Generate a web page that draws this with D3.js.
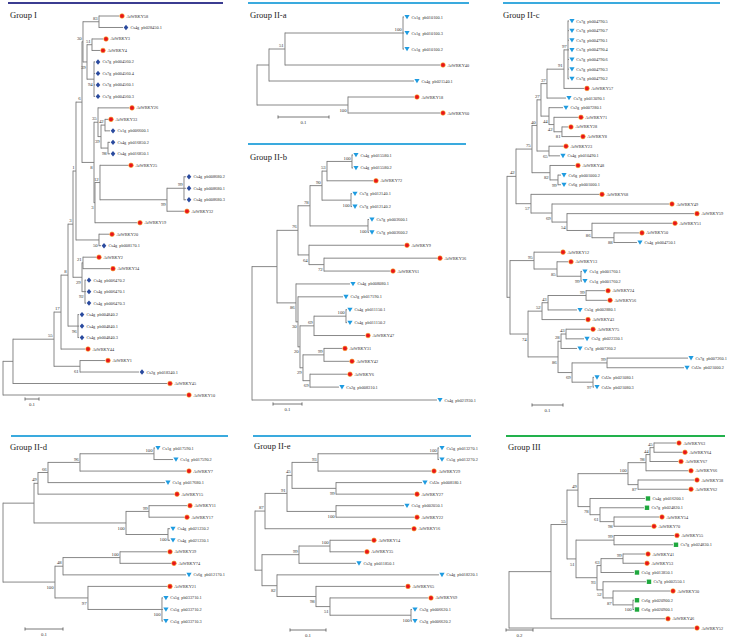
<!DOCTYPE html>
<html><head><meta charset="utf-8">
<script src="https://cdn.jsdelivr.net/npm/d3@7"></script>
<style>body{margin:0;background:#fff} svg{display:block} text{font-family:"Liberation Serif","Times New Roman",serif;white-space:pre}</style>
</head><body><svg id="c" width="740" height="642"></svg>
<script>
// ---------- DATA ----------
const panelTitles = ["Group I","Group II-a","Group II-b","Group II-c","Group II-d","Group II-e","Group III"];
const scaleBarValues = [0.1,0.1,0.1,0.1,0.1,0.1,0.2];
// Newick trees: leaf names, bootstrap values, branch lengths
const treeI = "((((((((((AtWRKY58:0.1429,Cs4g_pb028450.1:0.1714)83:0.1143,((AtWRKY3:0.0786,AtWRKY4:0.0571)51:0.0357,(Cs7g_pb004560.2:0.0071,Cs7g_pb004560.4:0.0071,Cs7g_pb004560.1:0.0071,Cs7g_pb004560.3:0.0071)94:0.05)39:0.0286)30:0.0071,((AtWRKY26:0.2214,((AtWRKY33:0.0214,Cs1g_pb006600.1:0.0357)42:0.0286,(Cs4g_pb016850.2:0.0143,Cs4g_pb016850.1:0.0143)98:0.05)39:0.0214)35:0.0286,((AtWRKY25:0.2,((Cs4g_pb008680.2:0.0143,Cs4g_pb008680.1:0.0143,Cs4g_pb008680.3:0.0143)99:0.1214,AtWRKY32:0.1214)99:0.4786)12:0.0357,AtWRKY19:0.3)3:0.0071)8:0.0857)6:0.0429,(AtWRKY20:0.0714,Cs4g_pb008170.1:0.0143)50:0.1643)1:0.0214,((AtWRKY2:0.0929,AtWRKY34:0.1929)21:0.0071,(Cs4g_pb006470.2:0.0071,Cs4g_pb006470.1:0.0071,Cs4g_pb006470.3:0.0071)92:0.0214)29:0.0643)3:0.0357,(Cs4g_pb004840.2:0.0071,Cs4g_pb004840.1:0.0071,Cs4g_pb004840.3:0.0071)96:0.0714)8:0.05,AtWRKY44:0.1714)17:0.05,(AtWRKY1:0.1786,Cs2g_pb018340.1:0.4214)61:0.1857)55:0.2929,AtWRKY45:1.1):0.0714,AtWRKY10:1.3071);";
const treeIIa = "((((Cs1g_pb010100.1:0.002,Cs1g_pb010100.3:0.002,Cs1g_pb010100.2:0.002)100:0.2314,AtWRKY40:0.3039)51:0.0314,Cs4g_pb021540.1:0.2843):0.0235,(AtWRKY18:0.1294,AtWRKY60:0.1804)100:0.1784);";
const treeIIb = "(((((((Cs4g_pb015580.1:0.0034,Cs4g_pb015580.2:0.0034)100:0.0862,AtWRKY72:0.1586)53:0.0172,(Cs7g_pb012140.1:0.0034,Cs7g_pb012140.2:0.0034)100:0.1)90:0.0414,(Cs7g_pb003600.1:0.0034,Cs7g_pb003600.2:0.0034)100:0.2)78:0.0414,(AtWRKY9:0.3276,(AtWRKY36:0.3897,AtWRKY61:0.2276)72:0.0517)64:0.0379)76:0.0724,(Cs4g_pb008080.1:0.1862,(Cs2g_pb017190.1:0.1552,(((Cs4g_pb011150.1:0.0034,Cs4g_pb011150.2:0.0034)100:0.1103,AtWRKY47:0.1759)69:0.0483,((AtWRKY31:0.0621,AtWRKY42:0.0862)99:0.0724,(AtWRKY6:0.1276,Cs2g_pb008310.1:0.1)69:0.0241)29:0.0103)20:0.0069)30:0.0069)86:0.0655):0.0862,Cs4g_pb021930.1:0.6379);";
const treeIIc = "((((((((Cs7g_pb004790.5:0.0032,Cs7g_pb004790.7:0.0032,Cs7g_pb004790.1:0.0032,Cs7g_pb004790.4:0.0032,Cs7g_pb004790.6:0.0032,Cs7g_pb004790.3:0.0032,Cs7g_pb004790.2:0.0032)97:0.0129,AtWRKY57:0.0645)91:0.0548,Cs7g_pb013090.1:0.0613)37:0.0194,(Cs2g_pb007280.1:0.0452,(AtWRKY71:0.0774,(AtWRKY28:0.0194,AtWRKY8:0.0581)81:0.0258)42:0.0161)44:0.0258)27:0.0129,(AtWRKY23:0.0452,Cs4g_pb010490.1:0.0355)65:0.0387)40:0.0161,(AtWRKY48:0.0806,(Cs6g_pb001000.2:0.0097,Cs6g_pb001000.1:0.0097)99:0.0258)82:0.0581)75:0.0516,(AtWRKY68:0.2194,(AtWRKY49:0.3774,(AtWRKY59:0.4097,(AtWRKY51:0.2581,(AtWRKY50:0.0806,Cs4g_pb004750.1:0.0742)88:0.071)86:0.0806)54:0.0484)69:0.0677)57:0.0484)42:0.029,((AtWRKY12:0.0839,(AtWRKY13:0.0355,(Cs1g_pb001760.1:0.0032,Cs1g_pb001760.2:0.0032)99:0.0774)85:0.0742)95:0.0774,((((AtWRKY24:0.0613,AtWRKY56:0.0677)99:0.1226,Cs5g_pb002880.1:0.0935)43:0.0194,AtWRKY43:0.1387)52:0.0452,(((AtWRKY75:0.0774,Cs2g_pb022330.1:0.0581)43:0.0161,Cs7g_pb007260.2:0.0516)28:0.0097,((Cs7g_pb007260.1:0.2613,CsUn_pb021000.2:0.2484)99:0.1129,(CsUn_pb021080.1:0.0032,CsUn_pb021080.3:0.0032)97:0.0677)69:0.0452)86:0.0968)74:0.0581):0.0097);";
const treeIId = "((((((Cs1g_pb017590.1:0.0026,Cs1g_pb017590.2:0.05)100:0.1947,AtWRKY7:0.2789)96:0.0842,Cs1g_pb017680.1:0.3079)66:0.0263,AtWRKY15:0.3579)49:0.0105,((AtWRKY11:0.1,AtWRKY17:0.0921)99:0.0605,(Cs4g_pb021230.2:0.0053,Cs4g_pb021230.1:0.0053)100:0.1105)100:0.2421):0.0816,(((AtWRKY39:0.1237,AtWRKY74:0.1342)100:0.15,Cs6g_pb012170.1:0.3237)48:0.0211,(AtWRKY21:0.2079,(Cs5g_pb033710.1:0.0026,Cs5g_pb033710.2:0.0026,Cs5g_pb033710.3:0.0026)100:0.1947)97:0.0868)100:0.1368);";
const treeIIe = "((((((Cs5g_pb013270.1:0.0028,Cs5g_pb013270.2:0.0028)100:0.3333,AtWRKY29:0.3139)93:0.0722,(CsUn_pb008180.1:0.2389,AtWRKY27:0.2167)99:0.1222)45:0.0139,(Cs5g_pb002050.1:0.1889,AtWRKY22:0.2167)100:0.1361)91:0.0611,AtWRKY16:0.4056)87:0.0278,(((AtWRKY14:0.1139,AtWRKY35:0.0944)100:0.0861,Cs2g_pb011850.1:0.1583)99:0.1028,(Cs4g_pb018220.1:0.45,(AtWRKY65:0.2472,(AtWRKY69:0.2722,(Cs2g_pb006620.1:0.0028,Cs2g_pb006620.2:0.0028)100:0.225)51:0.0389)98:0.1083)82:0.0417):0.0194);";
const treeIII = "((((((((AtWRKY63:0.163,AtWRKY64:0.2074)45:0.0296,AtWRKY67:0.2074)44:0.0296,AtWRKY66:0.3111)98:0.1333,(AtWRKY38:0.4148,AtWRKY62:0.3704)87:0.0741)100:0.3704,(Cs4g_pb016200.1:0.4074,(Cs7g_pb024820.1:0.3259,(AtWRKY54:0.3333,AtWRKY70:0.2741)98:0.1037)61:0.0741)78:0.0889)49:0.0815,((AtWRKY55:0.4444,Cs7g_pb024830.1:0.437)99:0.2815,(((AtWRKY41:0.163,AtWRKY53:0.1556)99:0.163,Cs5g_pb013850.1:0.2444)63:0.0296,(Cs7g_pb002550.1:0.3185,(AtWRKY30:0.4222,(Cs6g_pb020900.2:0.0074,Cs6g_pb020900.1:0.0074)100:0.1481)87:0.0741)52:0.0444)93:0.1556)51:0.0667)55:0.1185,AtWRKY46:0.8444):0.3111,AtWRKY52:1.3704);";
const trees = [treeI, treeIIa, treeIIb, treeIIc, treeIId, treeIIe, treeIII];

// ---------- LAYOUT (positions / styles) ----------
const layout = [
 {root:3,   unitPx:14, y0:16,  y1:395, bar:[25,399],  line:[8,223,3],     title:[10,17.5],  color:"#3b3c91", marker:"diamond"},
 {root:257, unitPx:51, y0:17,  y1:113, bar:[278,117], line:[248,469,3],   title:[250,17.5], color:"#3aaade", marker:"tri"},
 {root:252, unitPx:29, y0:155, y1:400, bar:[273,404], line:[248,466,144], title:[250,160],  color:"#3aaade", marker:"tri"},
 {root:507, unitPx:31, y0:21,  y1:387, bar:[532,405], line:[503,720,3],   title:[503,17.5], color:"#3aaade", marker:"tri"},
 {root:3,   unitPx:38, y0:448, y1:621, bar:[25,629],  line:[11,228,436],  title:[10,450],   color:"#3aaade", marker:"tri"},
 {root:255, unitPx:36, y0:448, y1:621, bar:[290,630], line:[253,471,436], title:[254,449],  color:"#3aaade", marker:"tri"},
 {root:509, unitPx:27, y0:443, y1:628, bar:[506,630], line:[506,725,436], title:[508,450],  color:"#22b14c", marker:"square"}
];
const markerColor = {diamond:"#2a4a9e", tri:"#1e9be0", square:"#1fa83e"};

function parseNewick(s){
  let i = 0;
  function node(){
    const n = {};
    if (s[i] === '('){
      n.children = [];
      i++;
      n.children.push(node());
      while (s[i] === ','){ i++; n.children.push(node()); }
      i++; // ')'
    }
    let name = '';
    while (i < s.length && !':,);'.includes(s[i])) name += s[i++];
    n.name = name;
    n.length = 0;
    if (s[i] === ':'){
      i++; let l = '';
      while (i < s.length && !',);'.includes(s[i])) l += s[i++];
      n.length = +l;
    }
    return n;
  }
  return node();
}

const svg = d3.select("#c");
const branchColor = "#7b7b7b";

layout.forEach((L, pi) => {
  const root = d3.hierarchy(parseNewick(trees[pi]));
  root.eachBefore(d => { d.dist = d.parent ? d.parent.dist + d.data.length : 0; });
  const leaves = root.leaves();
  const y = d3.scaleLinear().domain([0, leaves.length - 1]).range([L.y0, L.y1]);
  leaves.forEach((d, i) => d.yy = y(i));
  root.eachAfter(d => { if (d.children) d.yy = (d.children[0].yy + d.children[d.children.length - 1].yy) / 2; });
  const x = d3.scaleLinear().domain([0, scaleBarValues[pi]]).range([L.root, L.root + L.unitPx]);

  const g = svg.append("g");
  g.append("line").attr("x1", L.line[0]).attr("x2", L.line[1]).attr("y1", L.line[2]).attr("y2", L.line[2])
    .attr("stroke", L.color).attr("stroke-width", 1.8);
  g.append("text").attr("x", L.title[0]).attr("y", L.title[1]).attr("font-size", 8.6).attr("fill", "#222").text(panelTitles[pi]);

  const nodes = root.descendants();
  g.selectAll(null).data(nodes.filter(d => d.parent)).join("line")
    .attr("x1", d => x(d.parent.dist)).attr("x2", d => x(d.dist))
    .attr("y1", d => d.yy).attr("y2", d => d.yy)
    .attr("stroke", branchColor).attr("stroke-width", 0.9);
  g.selectAll(null).data(nodes.filter(d => d.children)).join("line")
    .attr("x1", d => x(d.dist)).attr("x2", d => x(d.dist))
    .attr("y1", d => d.children[0].yy - 0.45).attr("y2", d => d.children[d.children.length - 1].yy + 0.45)
    .attr("stroke", branchColor).attr("stroke-width", 0.9);

  // bootstrap labels
  g.selectAll(null).data(nodes.filter(d => d.children && d.parent && d.data.name)).join("text")
    .attr("x", d => x(d.dist) - 1.3)
    .attr("y", d => d.parent.children[0] === d ? d.yy - 1.9 : d.yy + 6.6)
    .attr("text-anchor", "end").attr("font-size", 4.8).attr("fill", "#333")
    .text(d => d.data.name);

  // leaves
  leaves.forEach(d => {
    const cx = x(d.dist) + 3, cy = d.yy;
    const isAt = d.data.name.startsWith("At");
    if (isAt) {
      g.append("circle").attr("cx", cx).attr("cy", cy).attr("r", 2.3)
        .attr("fill", "#e8141c").attr("stroke", "#f5a21d").attr("stroke-width", 0.6);
    } else if (L.marker === "diamond") {
      g.append("path").attr("d", `M${cx},${cy-2.7}L${cx+2.3},${cy}L${cx},${cy+2.7}L${cx-2.3},${cy}Z`).attr("fill", markerColor.diamond);
    } else if (L.marker === "tri") {
      g.append("path").attr("d", `M${cx-2.6},${cy-2}L${cx+2.6},${cy-2}L${cx},${cy+2.3}Z`).attr("fill", markerColor.tri);
    } else {
      g.append("rect").attr("x", cx-2.2).attr("y", cy-2.2).attr("width", 4.4).attr("height", 4.4).attr("fill", markerColor.square);
    }
    g.append("text").attr("x", cx + 4.4).attr("y", cy + 1.5).attr("font-size", 4.3).attr("fill", "#333")
      .text(d.data.name.replace("_", "  "));
  });

  // scale bar
  const len = x(scaleBarValues[pi]) - x(0);
  const bx = L.bar[0], by = L.bar[1];
  g.append("path").attr("d", `M${bx},${by-1.6}V${by+1.6}M${bx},${by}H${bx+len}M${bx+len},${by-1.6}V${by+1.6}`)
    .attr("stroke", "#555").attr("stroke-width", 0.8).attr("fill", "none");
  g.append("text").attr("x", bx + len/2).attr("y", by + 7.2).attr("text-anchor", "middle").attr("font-size", 4.8).attr("fill", "#333")
    .text(String(scaleBarValues[pi]));
});
</script></body></html>
